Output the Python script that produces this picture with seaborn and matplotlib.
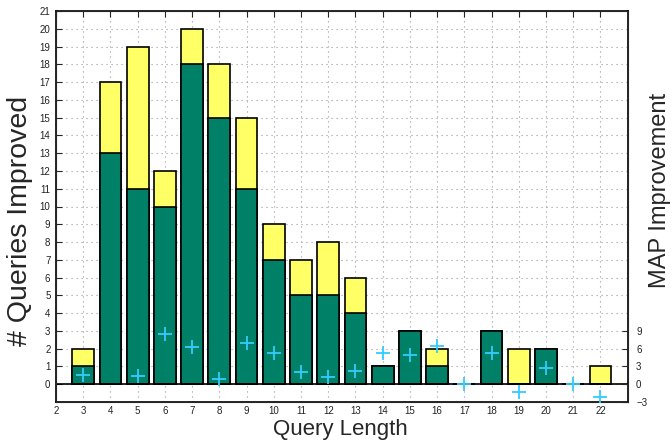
import matplotlib
matplotlib.use('Agg')
import matplotlib.pyplot as plt
import numpy as np
import pandas as pd
import seaborn as sns

# data
query_length = list(range(3, 23))
improved_total = [2, 17, 19, 12, 20, 18, 15, 9, 7, 8, 6, 1, 3, 2, 0, 3, 2, 2, 0, 1]
improved_green = [1, 13, 11, 10, 18, 15, 11, 7, 5, 5, 4, 1, 3, 1, 0, 3, 0, 2, 0, 0]
map_improvement = [1.5, np.nan, 1.4, 8.5, 6.3, 0.95, 7.0, 5.2, 2.0, 1.2,
                   2.25, 5.2, 4.85, 6.5, 0.0, 5.3, -1.25, 2.75, 0.0, -2.15]

df = pd.DataFrame({'len': query_length, 'total': improved_total,
                   'green': improved_green, 'map': map_improvement})

sns.set_style('white')
plt.rcParams['font.family'] = ['Liberation Sans', 'DejaVu Sans']

fig = plt.figure(figsize=(6.72, 4.41), dpi=100)
ax = fig.add_axes([56 / 672, 1 - 402 / 441, (627.7 - 56) / 672, (402 - 11) / 441])

# stacked bars: yellow totals behind, green part in front
sns.barplot(data=df, x='len', y='total', native_scale=True, width=0.8,
            color='#FFFF66', saturation=1, edgecolor='black', linewidth=1.2, ax=ax)
sns.barplot(data=df, x='len', y='green', native_scale=True, width=0.8,
            color='#008066', saturation=1, edgecolor='black', linewidth=1.2, ax=ax)

ax.set_xlim(2, 23)
ax.set_ylim(-1, 21)
ax.set_xticks(range(2, 23))
ax.set_yticks(range(0, 22))
ax.grid(True, linestyle=(0, (1, 3.5)), color='#999999', linewidth=0.8)
ax.set_axisbelow(True)
ax.tick_params(direction='in', top=True, right=True, labelsize=7, length=4, pad=4,
               labelcolor='#222222')
ax.tick_params(axis='x', pad=3)
ax.set_xlabel('')
ax.set_ylabel('')
for s in ax.spines.values():
    s.set_linewidth(1.2)
    s.set_color('black')

ax2 = ax.twinx()
sns.scatterplot(data=df, x='len', y='map', marker='+', s=110, color='#33CCFF',
                linewidth=1.3, ax=ax2, zorder=5)
ax2.set_ylim(-3, 63)
ax2.set_yticks([-3, 0, 3, 6, 9])
ax2.tick_params(direction='in', labelsize=7, length=4, pad=6, labelcolor='#222222')
ax2.set_xlim(2, 23)
ax2.set_ylabel('')
ax2.set_xlabel('')

# horizontal zero line
ax.axhline(0, color='black', linewidth=1.2, zorder=1)

fig.text(340 / 672, 1 - 435.5 / 441, 'Query Length', fontsize=16, ha='center', va='baseline')
fig.text(20 / 672, 1 - 221 / 441, '# Queries Improved', fontsize=20.5, rotation=90,
         ha='center', va='center')
fig.text(660 / 672, 1 - 190 / 441, 'MAP Improvement', fontsize=17, rotation=90,
         ha='center', va='center')

fig.savefig('out.png', dpi=100)
